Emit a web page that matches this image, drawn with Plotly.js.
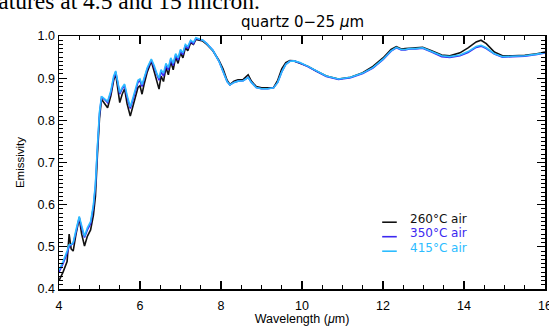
<!DOCTYPE html>
<html>
<head>
<meta charset="utf-8">
<script src="https://cdn.plot.ly/plotly-3.0.1.min.js"></script>
<style>html,body{margin:0;padding:0;background:#fff;overflow:hidden}#chart{width:549px;height:326px}</style>
</head>
<body>
<div id="chart"></div>
<script>
const wavelength = [4.00,4.10,4.20,4.25,4.30,4.35,4.42,4.50,4.56,4.63,4.70,4.78,4.85,4.90,4.95,5.00,5.05,5.12,5.20,5.28,5.35,5.40,5.45,5.50,5.56,5.62,5.68,5.76,5.83,5.90,5.95,6.00,6.05,6.10,6.18,6.28,6.35,6.42,6.47,6.52,6.58,6.64,6.70,6.76,6.82,6.88,6.94,7.00,7.06,7.12,7.18,7.25,7.32,7.38,7.45,7.55,7.65,7.80,7.95,8.05,8.15,8.22,8.32,8.42,8.55,8.67,8.75,8.87,9.00,9.15,9.30,9.40,9.50,9.60,9.70,9.80,9.95,10.15,10.35,10.60,10.90,11.20,11.50,11.75,12.00,12.20,12.33,12.45,12.55,12.65,12.80,12.98,13.20,13.45,13.65,13.90,14.10,14.30,14.42,14.55,14.75,14.95,15.20,15.50,15.80,16.00];

const emis415 = [0.445,0.465,0.490,0.505,0.505,0.510,0.540,0.572,0.550,0.525,0.545,0.560,0.600,0.650,0.740,0.820,0.857,0.852,0.845,0.870,0.905,0.917,0.895,0.866,0.878,0.886,0.860,0.832,0.855,0.880,0.895,0.898,0.885,0.900,0.925,0.945,0.930,0.910,0.900,0.920,0.912,0.935,0.925,0.948,0.935,0.958,0.948,0.968,0.960,0.980,0.975,0.990,0.985,0.996,0.993,0.990,0.982,0.966,0.940,0.918,0.892,0.884,0.890,0.893,0.894,0.902,0.890,0.878,0.875,0.875,0.877,0.890,0.915,0.933,0.940,0.941,0.937,0.928,0.917,0.905,0.898,0.902,0.912,0.925,0.945,0.965,0.973,0.968,0.968,0.970,0.970,0.972,0.963,0.953,0.951,0.955,0.963,0.975,0.978,0.972,0.958,0.951,0.952,0.953,0.957,0.961];

const emis350 = [0.440,0.460,0.485,0.500,0.505,0.508,0.535,0.570,0.545,0.522,0.540,0.555,0.595,0.645,0.735,0.815,0.855,0.850,0.842,0.866,0.900,0.915,0.890,0.862,0.875,0.882,0.855,0.828,0.850,0.875,0.890,0.894,0.880,0.897,0.922,0.943,0.925,0.905,0.895,0.915,0.905,0.930,0.920,0.945,0.930,0.955,0.943,0.965,0.956,0.978,0.970,0.988,0.982,0.994,0.992,0.990,0.982,0.966,0.940,0.918,0.892,0.884,0.890,0.893,0.894,0.902,0.890,0.878,0.875,0.875,0.877,0.890,0.915,0.933,0.940,0.941,0.936,0.927,0.916,0.904,0.897,0.901,0.911,0.924,0.944,0.964,0.972,0.967,0.967,0.969,0.969,0.971,0.962,0.951,0.949,0.953,0.961,0.973,0.976,0.970,0.957,0.950,0.951,0.952,0.956,0.960];

const emis260 = [0.420,0.440,0.465,0.530,0.495,0.490,0.530,0.568,0.530,0.502,0.525,0.540,0.575,0.620,0.720,0.805,0.850,0.840,0.830,0.858,0.895,0.910,0.875,0.842,0.862,0.875,0.840,0.810,0.835,0.860,0.878,0.882,0.862,0.885,0.915,0.940,0.915,0.890,0.874,0.905,0.892,0.925,0.908,0.940,0.920,0.950,0.935,0.960,0.948,0.972,0.965,0.984,0.980,0.992,0.990,0.988,0.980,0.965,0.942,0.922,0.895,0.885,0.893,0.896,0.897,0.908,0.893,0.880,0.877,0.877,0.878,0.895,0.922,0.937,0.942,0.941,0.936,0.928,0.917,0.905,0.898,0.902,0.913,0.928,0.948,0.968,0.975,0.969,0.970,0.971,0.971,0.973,0.965,0.955,0.953,0.960,0.972,0.986,0.990,0.982,0.962,0.953,0.953,0.954,0.958,0.962];

const seriesNames = ["260°C air","350°C air","415°C air"];
const seriesColors = ["#111111","#3c28f0","#2cbcff"];
const seriesData = [emis260, emis350, emis415];

const traces = seriesData.map((ys,i)=>({
  x: wavelength, y: ys, type:'scatter', mode:'lines',
  name: seriesNames[i], line:{color:seriesColors[i], width:1.6},
  showlegend:false
}));

const annotations = [
  {text:'quartz 0−25 <i>μ</i>m', xref:'paper', yref:'paper', x:0.5, y:1.012, xanchor:'center', yanchor:'bottom', showarrow:false, font:{size:15, color:'#000', family:'DejaVu Sans, sans-serif'}},
  {text:'features at 4.5 and 15 micron.', xref:'paper', yref:'paper', x:0.418, y:1.079, xanchor:'right', yanchor:'bottom', showarrow:false, font:{size:23.5, color:'#000', family:'Liberation Serif, Times New Roman, serif'}}
];
const shapes = [];
const legY = [0.278, 0.2207, 0.1634];
seriesNames.forEach((n,i)=>{
  annotations.push({text:n, xref:'paper', yref:'paper', x:0.72, y:legY[i], xanchor:'left', yanchor:'middle', borderpad:0, showarrow:false, font:{size:12, color:seriesColors[i], family:'DejaVu Sans, sans-serif'}});
  shapes.push({type:'line', xref:'paper', yref:'paper', x0:0.665, x1:0.695, y0:legY[i]-0.014, y1:legY[i]-0.014, line:{color:seriesColors[i], width:1.6}});
});

const axisCommon = {
  showline:true, linecolor:'#000', linewidth:1.5, mirror:'ticks',
  ticks:'inside', ticklen:8, tickwidth:1.2, tickcolor:'#000',
  showgrid:false, zeroline:false, ticklabeloverflow:'allow',
  tickfont:{size:12.5, color:'#000', family:'Liberation Sans, Arial, sans-serif'}
};

const layout = {
  width:549, height:326,
  margin:{l:59, r:4, t:36, b:37},
  paper_bgcolor:'#fff', plot_bgcolor:'#fff',
  xaxis: Object.assign({}, axisCommon, {
    range:[4,16], dtick:2, tick0:4, ticklabelstandoff:4,
    minor:{ticks:'inside', dtick:0.5, ticklen:4, tickcolor:'#000', tickwidth:1},
    title:{text:'Wavelength (<i>μ</i>m)', standoff:1, font:{size:12.5, color:'#000', family:'Liberation Sans, Arial, sans-serif'}}
  }),
  yaxis: Object.assign({}, axisCommon, {
    range:[0.4,1.0], dtick:0.1, tick0:0.4, tickformat:'.1f',
    minor:{ticks:'inside', dtick:0.01, ticklen:4, tickcolor:'#000', tickwidth:1},
    title:{text:'Emissivity', standoff:10, font:{size:11.5, color:'#000', family:'Liberation Sans, Arial, sans-serif'}}
  }),
  annotations: annotations,
  shapes: shapes,
  showlegend:false
};

Plotly.newPlot('chart', traces, layout, {displayModeBar:false, staticPlot:true});
</script>
</body>
</html>
